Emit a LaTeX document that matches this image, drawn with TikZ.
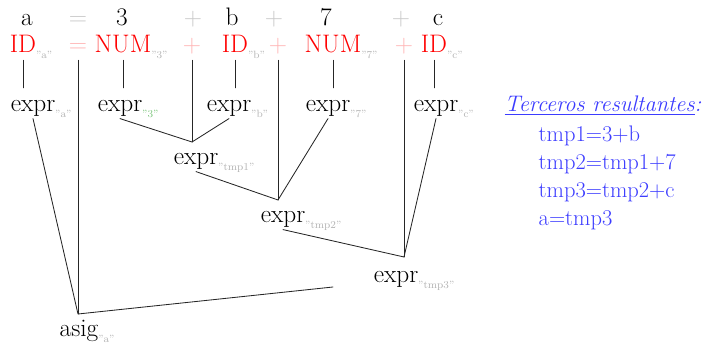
\documentclass[tikz,border=0pt]{standalone}
\usepackage{xcolor}
\usepackage{tikz}
\usetikzlibrary{positioning}
\definecolor{tokred}{HTML}{FF0000}
\definecolor{oppink}{HTML}{FFB4B4}
\definecolor{opgray}{HTML}{C8C8C8}
\definecolor{subgray}{HTML}{B4B4B4}
\definecolor{subgreen}{HTML}{7CC47C}
\definecolor{resblue}{HTML}{3C3CFF}
\newcommand{\attr}[2][subgray]{\rlap{\raisebox{-0.5ex}{\fontsize{7.5}{8}\selectfont\color{#1}#2}}}
\tikzset{
    every picture/.style={line cap=round,line join=round},
    lex/.style={anchor=base,inner sep=1pt,font=\fontsize{18}{21}\selectfont},
    tokword/.style={lex},
    symnode/.style={lex,text=tokred,text depth=4pt},
    opnode/.style={symnode,text=oppink},
    exprnode/.style={lex,text height=16pt,text depth=3.5pt},
    branch/.style={draw=black!85,line width=0.6pt},
    restext/.style={anchor=base west,inner sep=1pt,text=resblue,
      font=\fontsize{16}{19}\selectfont}
}

\begin{document}
\begin{tikzpicture}[x=0.025cm,y=-0.025cm]
  \useasboundingbox (0,0) rectangle (713,346);
  % source text
  \foreach \t/\x/\c [count=\i] in {a/27/black,=/78/opgray,3/122/black,+/193/opgray,b/232/black,+/274/opgray,7/326/black,+/401/opgray,c/438/black}
    {\node[tokword,text=\c] (w\i) at (\x,26) {\t};}
  % tokens
  \node[symnode] (idA) at (23,53) {ID\attr{"a"}};
  \node[opnode] (eq2) at (78,53) {=};
  \node[symnode] (num3) at (123,53) {NUM\attr{"3"}};
  \node[opnode] (plusA) at (192,53) {+};
  \node[symnode] (idB) at (235,53) {ID\attr{"b"}};
  \node[opnode] (plusB) at (278,53) {+};
  \node[symnode] (num7) at (333,53) {NUM\attr{"7"}};
  \node[opnode] (plusC) at (404,53) {+};
  \node[symnode] (idC) at (434,53) {ID\attr{"c"}};
  % expressions
  \node[exprnode] (exA) at (33,112) {expr\attr{"a"}};
  \node[exprnode] (ex3) at (120,112) {expr\attr[subgreen]{"3"}};
  \node[exprnode] (exB) at (229,112) {expr\attr{"b"}};
  \node[exprnode] (ex7) at (328,112) {expr\attr{"7"}};
  \node[exprnode] (exC) at (436,112) {expr\attr{"c"}};
  \node[exprnode] (t1) at (196,165) {expr\attr{"tmp1"}};
  \node[exprnode] (t2) at (283,223) {expr\attr{"tmp2"}};
  \node[exprnode] (t3) at (396,283) {expr\attr{"tmp3"}};
  \node[exprnode] (asig) at (79,337) {asig\attr{"a"}};
  \coordinate (j1) at (192,142);
  \coordinate (j2) at (278,200);
  \coordinate (j3) at (404,257);
  \coordinate (j4) at (78,314);
  \coordinate (e4) at (333,287);
  % branches
  \foreach \s/\e in {idA/exA,num3/ex3,idB/exB,num7/ex7,idC/exC}
    {\draw[branch] (\s.south) -- (\s.south |- \e.north);}
  \draw[branch] (eq2.south) -- (j4);
  \draw[branch] (plusA.south) -- (j1);
  \draw[branch] (plusB.south) -- (j2);
  \draw[branch] (plusC.south) -- (j3);
  \draw[branch] (ex3.south) -- (j1) -- (exB.south);
  \draw[branch] (t1.south) -- (j2) -- (ex7.south);
  \draw[branch] (t2.south) -- (j3) -- (exC.south);
  \draw[branch] (exA.south) -- (j4) -- (e4);
  % resulting triples
  \node[restext] (hdr) at (503,112) {\underline{\itshape Terceros resultantes}\textit{:}};
  \foreach \l [count=\i] in {tmp1=3+b,tmp2=tmp1+7,tmp3=tmp2+c,a=tmp3}
    {\node[restext] (r\i) at (537,{142+28*(\i-1)}) {\l};}
\end{tikzpicture}
\end{document}
